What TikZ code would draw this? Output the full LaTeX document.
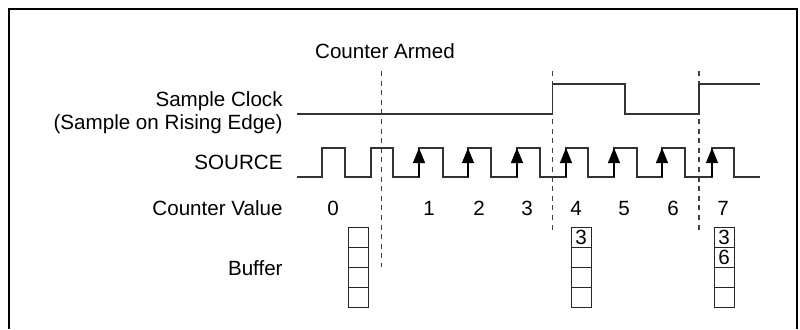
\documentclass[tikz,border=0pt]{standalone}
\usepackage{fontspec}
\setmainfont{Liberation Sans}
\usepackage{tikz}
\usetikzlibrary{arrows.meta}
\tikzstyle{wave} = [line width=0.55pt, black!80]
\tikzstyle{armline} = [line width=0.55pt, black!75, dash pattern=on 2.5pt off 2.3pt]
\tikzstyle{edgeArrow} = [line width=0.55pt, -{Triangle[length=7.5pt,width=6pt]}]
\tikzstyle{lbl} = [inner sep=0pt]
\tikzstyle{cell} = [draw, line width=0.5pt, black!85, text=black, minimum width=10pt,
   minimum height=10pt, inner sep=0pt]

\begin{document}
\begin{tikzpicture}[x=0.5pt, y=-0.5pt, font=\fontsize{10.3}{12}\selectfont]
  \useasboundingbox (0,0) rectangle (800,329);
  \draw [line width=1.25pt] (9,329) -- (9,9) -- (797,9) -- (797,329);
  % labels
  \node [lbl, anchor=base] (armed) at (385,58) {Counter Armed};
  \node [lbl, anchor=base east] (clk) at (283,106) {Sample Clock};
  \node [lbl, anchor=base east] (clkedge) at (283,129) {(Sample on Rising Edge)};
  \node [lbl, anchor=base east] (src) at (283,169) {SOURCE};
  \node [lbl, anchor=base east] (cval) at (283,215) {Counter Value};
  \node [lbl, anchor=base east] (buf) at (283,275) {Buffer};
  % counter values
  \node [lbl, anchor=base] (v0) at (333,215) {0};
  \node [lbl, anchor=base] (v1) at (429,215) {1};
  \node [lbl, anchor=base] (v2) at (479,215) {2};
  \node [lbl, anchor=base] (v3) at (527,215) {3};
  \node [lbl, anchor=base] (v4) at (576,215) {4};
  \node [lbl, anchor=base] (v5) at (624,215) {5};
  \node [lbl, anchor=base] (v6) at (673,215) {6};
  \node [lbl, anchor=base] (v7) at (723,215) {7};
  % armed and sample marks
  \draw [armline] (381.5,71) -- (381.5,267);
  \draw [armline] (552.5,71) -- (552.5,233);
  \draw [armline] (699,71) -- (699,233);
  % sample clock
  \draw [wave] (297,114) -| (552.5,84) -| (625,114) -| (699,84) -- (760,84);
  % source
  \draw [wave] (297,177) -| (322,148) -| (345,177) -| (371,148) -| (393,177)
    -| (419,148) -| (443,177) -| (468,148) -| (491,177) -| (517,148) -| (540,177)
    -| (566,148) -| (588,177) -| (614,148) -| (637,177) -| (662,148) -| (685,177)
    -| (712,148) -| (734,177) -- (760,177);
  \draw [edgeArrow] (419,177) -- (419,148);
  \draw [edgeArrow] (468,177) -- (468,148);
  \draw [edgeArrow] (517,177) -- (517,148);
  \draw [edgeArrow] (566,177) -- (566,148);
  \draw [edgeArrow] (614,177) -- (614,148);
  \draw [edgeArrow] (662,177) -- (662,148);
  \draw [edgeArrow] (712,177) -- (712,148);
  % buffers
  \node [cell] (b1a) at (358,237) {};
  \node [cell] (b1b) at (358,257) {};
  \node [cell] (b1c) at (358,277) {};
  \node [cell] (b1d) at (358,297) {};
  \node [cell] (b2a) at (581,237) {3};
  \node [cell] (b2b) at (581,257) {};
  \node [cell] (b2c) at (581,277) {};
  \node [cell] (b2d) at (581,297) {};
  \node [cell] (b3a) at (724,237) {3};
  \node [cell] (b3b) at (724,257) {6};
  \node [cell] (b3c) at (724,277) {};
  \node [cell] (b3d) at (724,297) {};
\end{tikzpicture}
\end{document}
